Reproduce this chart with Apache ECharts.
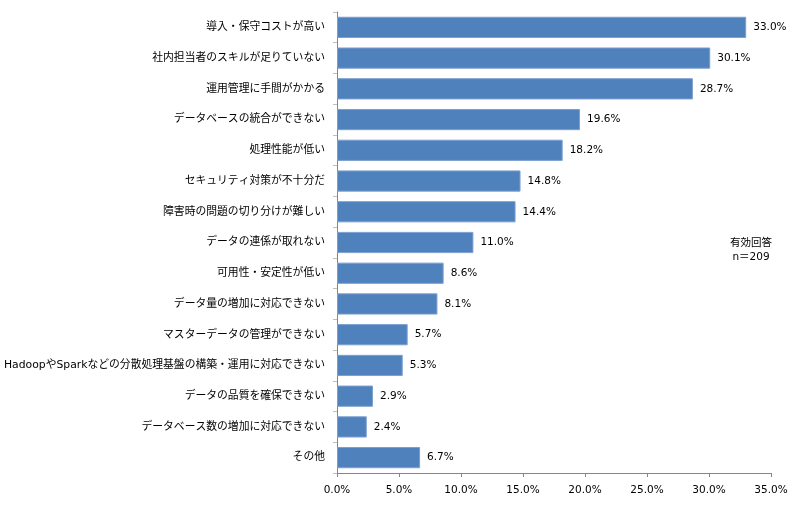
<!DOCTYPE html>
<html>
<head>
<meta charset="utf-8">
<script src="https://cdn.jsdelivr.net/npm/echarts@6/dist/echarts.min.js"></script>
<style>
  html, body { margin: 0; padding: 0; background: #fff; }
  #main { width: 800px; height: 508px; }
</style>
</head>
<body>
<div id="main"></div>
<script>
  // 項目（上から順）
  var categories = [
    '導入・保守コストが高い',
    '社内担当者のスキルが足りていない',
    '運用管理に手間がかかる',
    'データベースの統合ができない',
    '処理性能が低い',
    'セキュリティ対策が不十分だ',
    '障害時の問題の切り分けが難しい',
    'データの連係が取れない',
    '可用性・安定性が低い',
    'データ量の増加に対応できない',
    'マスターデータの管理ができない',
    'HadoopやSparkなどの分散処理基盤の構築・運用に対応できない',
    'データの品質を確保できない',
    'データベース数の増加に対応できない',
    'その他'
  ];
  // 回答率(%)
  var values = [33.0, 30.1, 28.7, 19.6, 18.2, 14.8, 14.4, 11.0, 8.6, 8.1, 5.7, 5.3, 2.9, 2.4, 6.7];
  var axisMax = 35;
  var axisStep = 5;
  var noteText = '有効回答\nn＝209';

  var font = "'DejaVu Sans', 'Noto Sans CJK JP', sans-serif";

  var chart = echarts.init(document.getElementById('main'));
  var option = {
    animation: false,
    backgroundColor: '#ffffff',
    textStyle: { fontFamily: font },
    grid: { left: 337, right: 29, top: 12, bottom: 35 },
    xAxis: {
      type: 'value',
      min: 0,
      max: axisMax,
      interval: axisStep,
      axisLine: { show: true, lineStyle: { color: '#868686' } },
      axisTick: { show: true, length: 4, lineStyle: { color: '#868686' } },
      splitLine: { show: false },
      axisLabel: {
        color: '#000',
        fontSize: 10.5,
        fontFamily: font,
        margin: 12,
        formatter: function (v) { return v.toFixed(1) + '%'; }
      }
    },
    yAxis: {
      type: 'category',
      inverse: true,
      data: categories,
      axisLine: { show: true, lineStyle: { color: '#868686' } },
      axisTick: { show: true, length: 4, lineStyle: { color: '#c0c0c0' } },
      axisLabel: {
        color: '#000',
        fontSize: 10.8,
        fontFamily: font,
        margin: 12
      }
    },
    series: [{
      type: 'bar',
      data: values,
      barCategoryGap: '31%',
      itemStyle: {
        color: '#4f81bd',
        borderColor: '#7b9fcf',
        borderWidth: 1
      },
      label: {
        show: true,
        position: 'right',
        distance: 7,
        color: '#000',
        fontSize: 10.5,
        fontFamily: font,
        formatter: function (p) { return p.value.toFixed(1) + '%'; }
      }
    }],
    graphic: [{
      type: 'text',
      x: 751,
      y: 236,
      style: {
        text: noteText,
        fill: '#000',
        font: '10.5px ' + font,
        align: 'center',
        verticalAlign: 'top',
        lineHeight: 14
      }
    }]
  };
  chart.setOption(option);
</script>
</body>
</html>
